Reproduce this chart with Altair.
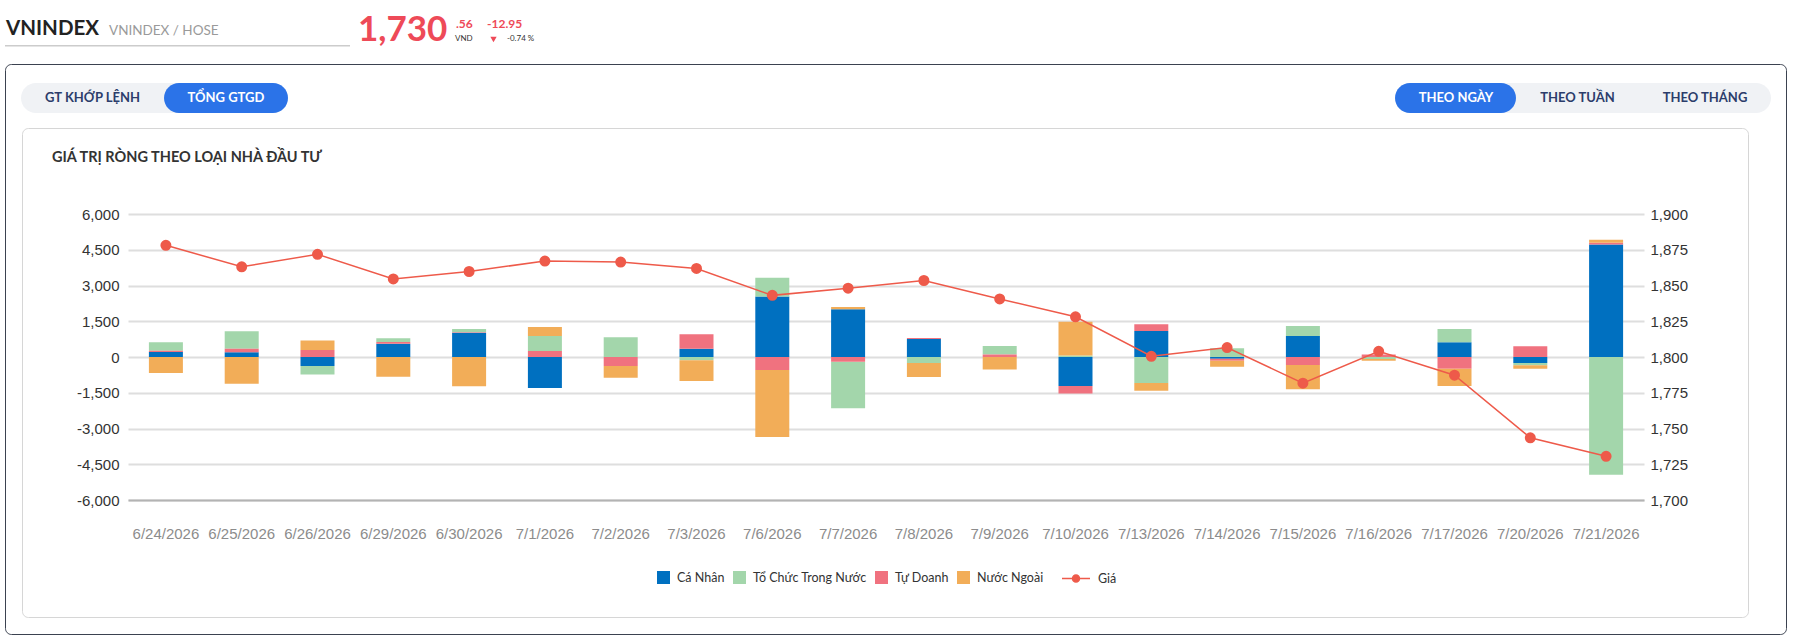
import altair as alt
import pandas as pd

# ---------------- data ----------------
dates = ["6/24/2026", "6/25/2026", "6/26/2026", "6/29/2026", "6/30/2026",
         "7/1/2026", "7/2/2026", "7/3/2026", "7/6/2026", "7/7/2026",
         "7/8/2026", "7/9/2026", "7/10/2026", "7/13/2026", "7/14/2026",
         "7/15/2026", "7/16/2026", "7/17/2026", "7/20/2026", "7/21/2026"]
ca_nhan = [210, 195, -380, 560, 1020, -1300, 0, 350, 2535, 2000,
           755, 0, -1220, 1095, -70, 880, 0, 615, -250, 4720]
to_chuc = [350, 730, -350, 155, 140, 630, 830, -140, 785, -1960,
           -250, 350, 60, -1095, 365, 420, -85, 560, -100, -4940]
tu_doanh = [55, 155, 295, 70, 20, 250, -380, 600, -545, -195,
            40, 110, -310, 280, -85, -335, 110, -490, 450, 70]
nuoc_ngoai = [-670, -1120, 395, -830, -1230, 380, -490, -870, -2815, 100,
              -590, -520, 1415, -320, -250, -1020, -70, -730, -140, 125]
gia = [1878.1, 1863.1, 1871.8, 1854.6, 1859.8, 1867.1, 1866.4, 1861.9, 1843.1, 1848.1,
       1853.5, 1840.6, 1828.1, 1800.5, 1806.6, 1781.7, 1804.0, 1787.3, 1743.51, 1730.56]

series_names = ["Cá Nhân", "Tổ Chức Trong Nước", "Tự Doanh", "Nước Ngoài"]
series_colors = ["#0070c0", "#a3d6ab", "#f0727f", "#f2ad58"]
stack_rank = [0, 2, 1, 3]
left_ticks = [-6000, -4500, -3000, -1500, 0, 1500, 3000, 4500, 6000]
right_ticks = [1700, 1725, 1750, 1775, 1800, 1825, 1850, 1875, 1900]

rows = []
for name, rank, vals in zip(series_names, stack_rank, [ca_nhan, to_chuc, tu_doanh, nuoc_ngoai]):
    for d, v in zip(dates, vals):
        rows.append({"date": d, "series": name, "value": v, "rank": rank})
bars_df = pd.DataFrame(rows)
price_df = pd.DataFrame({"date": dates, "price": gia, "series": ["Giá"] * len(dates)})

# ---------------- layout ----------------
OX, OY = 128, 214          # plot origin on the page
W, H = 1516, 286
UI = "Lato"
AX = "Liberation Sans"
RED = "#ee4a58"
LINE = "#ee5a4a"
NAVY = "#2c3d6b"
BLUE_BTN = "#2b73e8"

one = pd.DataFrame({"k": [0]})


def txt(t, x, y, size, color, weight="normal", align="left", font=UI):
    return alt.Chart(one).mark_text(
        text=t, fontSize=size, color=color, fontWeight=weight, font=font,
        align=align, baseline="middle"
    ).encode(x=alt.value(x - OX), y=alt.value(y - OY))


def box(x1, y1, x2, y2, fill="transparent", stroke="transparent", r=0, sw=1):
    return alt.Chart(one).mark_rect(
        fill=fill, stroke=stroke, strokeWidth=sw, cornerRadius=r
    ).encode(x=alt.value(x1 - OX), x2=alt.value(x2 - OX),
             y=alt.value(y1 - OY), y2=alt.value(y2 - OY))


decor = [
    box(5.5, 64.5, 1786.5, 634.5, stroke="#3b4250", r=6),
    box(22.5, 128.5, 1748.5, 617.5, stroke="#d6d6d6", r=6),
    box(21, 83, 288, 113, fill="#f0f2f5", r=15),
    box(164, 83, 288, 113, fill=BLUE_BTN, r=15),
    box(1395, 83, 1771, 113, fill="#f0f2f5", r=15),
    box(1395, 83, 1516, 113, fill=BLUE_BTN, r=15),
    txt("GT KHỚP LỆNH", 92.5, 98, 13, NAVY, "bold", "center"),
    txt("TỔNG GTGD", 226, 98, 13, "white", "bold", "center"),
    txt("THEO NGÀY", 1456, 98, 13, "white", "bold", "center"),
    txt("THEO TUẦN", 1577.5, 98, 13, NAVY, "bold", "center"),
    txt("THEO THÁNG", 1705, 98, 13, NAVY, "bold", "center"),
    txt("GIÁ TRỊ RÒNG THEO LOẠI NHÀ ĐẦU TƯ", 52, 158, 14.5, "#333333", "bold"),
    txt("VNINDEX", 6, 28.5, 20.5, "#222222", "bold"),
    txt("VNINDEX / HOSE", 109, 31, 13.5, "#9a9a9a"),
    box(5, 45, 350, 46.5, fill="#cccccc"),
    txt("1,730", 358, 30, 35, RED, "bold"),
    txt(".56", 456, 23.5, 12, RED, "bold"),
    txt("VND", 455, 39, 8, "#333333"),
    txt("-12.95", 487, 23.5, 12, RED, "bold"),
    alt.Chart(one).mark_point(shape="triangle-down", filled=True, size=40, color=RED, opacity=1)
      .encode(x=alt.value(493.5 - OX), y=alt.value(39.5 - OY)),
    txt("-0.74 %", 507, 39, 8, "#333333"),
]

minus_fix = "replace(format(datum.value, ','), '\u2212', '-')"

x_enc = alt.X(
    "date:N", sort=dates, title=None,
    scale=alt.Scale(paddingInner=0, paddingOuter=0),
    axis=alt.Axis(labelAngle=0, labelFont=AX, labelFontSize=15, labelColor="#8c8c8c",
                  labelPadding=26, ticks=False, grid=False, domain=True,
                  domainColor="#b3b3b3", domainWidth=2),
)

bars = alt.Chart(bars_df).mark_bar(size=34).encode(
    x=x_enc,
    y=alt.Y("value:Q", stack="zero", title=None,
            scale=alt.Scale(domain=[-6000, 6000], nice=False),
            axis=alt.Axis(values=left_ticks, labelExpr=minus_fix, labelFont=AX,
                          labelFontSize=15, labelColor="#333333", ticks=False,
                          domain=False, gridColor="#dedede", gridWidth=2,
                          labelPadding=9)),
    color=alt.Color("series:N",
                    scale=alt.Scale(domain=series_names, range=series_colors),
                    legend=alt.Legend(orient="none", legendX=529, legendY=357,
                                      direction="horizontal", title=None,
                                      symbolType="square", symbolSize=169,
                                      symbolStrokeWidth=0, labelFont=UI,
                                      labelFontSize=12.5, labelColor="#333333",
                                      labelOffset=7, columnPadding=8)),
    order=alt.Order("rank:Q"),
)

dot_line = "M-1,0L1,0M-0.25,0A0.25,0.25,0,1,1,0.25,0A0.25,0.25,0,1,1,-0.25,0Z"

line = alt.Chart(price_df).mark_line(
    strokeWidth=1.5,
    point=alt.OverlayMarkDef(filled=True, size=81, color=LINE, opacity=1),
).encode(
    x=alt.X("date:N", sort=dates),
    y=alt.Y("price:Q", title=None,
            scale=alt.Scale(domain=[1700, 1900], nice=False, zero=False),
            axis=alt.Axis(orient="right", values=right_ticks,
                          labelExpr="format(datum.value, ',')",
                          labelFont=AX, labelFontSize=15, labelColor="#333333",
                          ticks=False, domain=False, grid=False, labelPadding=6)),
    stroke=alt.Stroke("series:N",
                      scale=alt.Scale(domain=["Giá"], range=[LINE]),
                      legend=alt.Legend(orient="none", legendX=933, legendY=349.5,
                                        direction="horizontal", title=None,
                                        symbolType=dot_line, symbolSize=784,
                                        symbolStrokeWidth=1.5,
                                        symbolFillColor=LINE,
                                        symbolStrokeColor=LINE,
                                        labelFont=UI, labelFontSize=12.5,
                                        labelColor="#333333", labelOffset=7)),
)

chart = alt.layer(*decor, bars, line).resolve_scale(
    y="independent"
).properties(
    width=W, height=H,
    autosize=alt.AutoSizeParams(type="none"),
    padding={"left": OX, "top": OY, "right": 1794 - OX - W, "bottom": 639 - OY - H},
    background="white",
).configure_view(stroke=None)

chart.save("out.html", embed_options={"renderer": "svg", "actions": False})
